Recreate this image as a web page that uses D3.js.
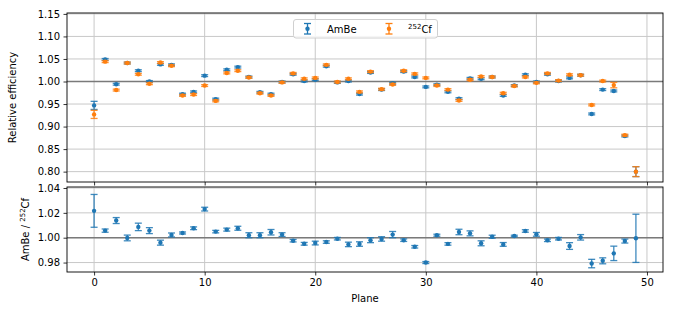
<!DOCTYPE html>
<html><head><meta charset="utf-8">
<script src="https://cdn.jsdelivr.net/npm/d3@7"></script>
<style>
html,body{margin:0;padding:0;background:#fff;}
svg text{font-family:"DejaVu Sans",sans-serif;}
</style></head>
<body>
<script>
const planes = [0,1,2,3,4,5,6,7,8,9,10,11,12,13,14,15,16,17,18,19,20,21,22,23,24,25,26,27,28,29,30,31,32,33,34,35,36,37,38,39,40,41,42,43,44,45,46,47,48,49];
const ambe = [0.947,1.049,0.994,1.041,1.024,1.000,1.038,1.037,0.972,0.977,1.013,0.961,1.026,1.032,1.010,0.976,0.972,0.999,1.016,1.001,1.004,1.034,0.998,1.001,0.972,1.020,0.982,0.996,1.022,1.010,0.988,0.993,0.977,0.962,1.007,1.006,1.010,0.969,0.991,1.015,0.999,1.016,1.001,1.008,1.014,0.928,0.982,0.979,0.879,0.800];
const ambeErr = [0.009,0.002,0.002,0.002,0.002,0.002,0.002,0.002,0.002,0.002,0.002,0.002,0.002,0.002,0.002,0.002,0.002,0.002,0.002,0.002,0.002,0.002,0.002,0.002,0.002,0.002,0.002,0.002,0.002,0.002,0.002,0.002,0.002,0.002,0.002,0.002,0.002,0.002,0.002,0.002,0.002,0.002,0.002,0.002,0.002,0.002,0.002,0.002,0.002,0.011];
const cf = [0.927,1.044,0.981,1.041,1.016,0.995,1.042,1.035,0.969,0.971,0.991,0.957,1.019,1.024,1.009,0.974,0.969,0.998,1.018,1.006,1.008,1.037,0.999,1.006,0.977,1.022,0.983,0.9935,1.024,1.017,1.008,0.991,0.982,0.958,1.004,1.011,1.010,0.974,0.990,1.010,0.997,1.018,1.002,1.015,1.014,0.948,1.001,0.992,0.881,0.800];
const cfErr = [0.009,0.002,0.002,0.002,0.002,0.002,0.002,0.002,0.002,0.002,0.002,0.002,0.002,0.002,0.002,0.002,0.002,0.002,0.002,0.002,0.002,0.002,0.002,0.002,0.002,0.002,0.002,0.002,0.002,0.002,0.002,0.002,0.002,0.002,0.002,0.002,0.002,0.002,0.002,0.002,0.002,0.002,0.002,0.002,0.002,0.002,0.002,0.006,0.002,0.011];
const ratio = [1.0216,1.0057,1.0138,0.9998,1.0087,1.0057,0.9960,1.0022,1.0038,1.0076,1.0230,1.0049,1.0065,1.0076,1.0020,1.0020,1.0044,1.0025,0.9976,0.9951,0.9957,0.9965,0.9992,0.9946,0.9949,0.9980,0.9990,1.0025,0.9980,0.9927,0.9800,1.0020,0.9950,1.0046,1.0035,0.9955,1.0008,0.9946,1.0014,1.0054,1.0027,0.9979,0.9992,0.9933,1.0003,0.9792,0.9814,0.9874,0.9973,0.9995];
const ratioErr = [0.0132,0.0013,0.0024,0.0023,0.0030,0.0024,0.0020,0.0016,0.0008,0.0011,0.0015,0.0010,0.0012,0.0016,0.0020,0.0020,0.0022,0.0015,0.0010,0.0011,0.0015,0.0010,0.0010,0.0018,0.0018,0.0020,0.0018,0.0025,0.0010,0.0010,0.0008,0.0008,0.0010,0.0022,0.0020,0.0020,0.0012,0.0015,0.0006,0.0010,0.0015,0.0010,0.0010,0.0027,0.0022,0.0034,0.0024,0.0058,0.0016,0.0194];
const xTicks = [0,10,20,30,40,50];
const topTicks = [0.80,0.85,0.90,0.95,1.00,1.05,1.10,1.15];
const botTicks = [0.98,1.00,1.02,1.04];
const seriesNames = ["AmBe","Cf"];
const colors = ["#1f77b4","#ff7f0e"];

const W = 678, H = 316;
const L = 67, R = 663;
const topY0 = 13, topY1 = 182, botY0 = 187, botY1 = 272;

const svg = d3.select("body").append("svg").attr("width",W).attr("height",H)
  .style("background","#fff");

const x = d3.scaleLinear().domain([-2.45, 51.45]).range([L, R]);
const yTop = d3.scaleLinear().domain([0.777, 1.152]).range([topY1, topY0]);
const yBot = d3.scaleLinear().domain([0.9724, 1.0408]).range([botY1, botY0]);

function panel(y, yticks, yfmt, showXLabels){
  const g = svg.append("g");
  const y0 = y.range()[0], y1 = y.range()[1];
  // grid
  g.selectAll(".gx").data(xTicks).join("line")
    .attr("x1", d=>x(d)).attr("x2", d=>x(d)).attr("y1", y0).attr("y2", y1)
    .attr("stroke","#c8c8c8").attr("stroke-width",1);
  g.selectAll(".gy").data(yticks).join("line")
    .attr("x1", L).attr("x2", R).attr("y1", d=>y(d)).attr("y2", d=>y(d))
    .attr("stroke","#c8c8c8").attr("stroke-width",1);
  // reference line at 1
  g.append("line").attr("x1",L).attr("x2",R).attr("y1",y(1)).attr("y2",y(1))
    .attr("stroke","#7a7a7a").attr("stroke-width",1.4);
  // axes
  const ay = d3.axisLeft(y).tickValues(yticks).tickFormat(yfmt).tickSize(3.5).tickPadding(3.5);
  const gy = svg.append("g").attr("transform",`translate(${L},0)`).call(ay);
  gy.select(".domain").remove();
  gy.selectAll("text").attr("font-size",10).attr("fill","#000").style("font-family","DejaVu Sans");
  gy.selectAll("line").attr("stroke","#000").attr("stroke-width",0.8);
  const ax = d3.axisBottom(x).tickValues(xTicks).tickSize(3.5).tickPadding(3.5)
    .tickFormat(showXLabels ? d3.format("d") : "");
  const gx = svg.append("g").attr("transform",`translate(0,${y0})`).call(ax);
  gx.select(".domain").remove();
  gx.selectAll("text").attr("font-size",10).attr("fill","#000").style("font-family","DejaVu Sans");
  gx.selectAll("line").attr("stroke","#000").attr("stroke-width",0.8);
  return g;
}

function errorbars(g, y, vals, errs, color){
  const cap = 3.5;
  const eg = g.append("g");
  const data = planes.map((p,i)=>({p, v:vals[i], e:errs[i]}));
  eg.selectAll(".v").data(data).join("line")
    .attr("x1",d=>x(d.p)).attr("x2",d=>x(d.p))
    .attr("y1",d=>y(d.v-d.e)).attr("y2",d=>y(d.v+d.e))
    .attr("stroke",color).attr("stroke-width",1.3).attr("opacity",0.85);
  ["lo","hi"].forEach(k=>{
    eg.selectAll(".c"+k).data(data).join("line")
      .attr("x1",d=>x(d.p)-cap).attr("x2",d=>x(d.p)+cap)
      .attr("y1",d=>y(k==="lo"?d.v-d.e:d.v+d.e)).attr("y2",d=>y(k==="lo"?d.v-d.e:d.v+d.e))
      .attr("stroke",color).attr("stroke-width",1.3).attr("opacity",0.85);
  });
  eg.selectAll("circle").data(data).join("circle")
    .attr("cx",d=>x(d.p)).attr("cy",d=>y(d.v)).attr("r",2.2).attr("fill",color);
}

const gTop = panel(yTop, topTicks, d3.format(".2f"), false);
errorbars(gTop, yTop, ambe, ambeErr, colors[0]);
errorbars(gTop, yTop, cf, cfErr, colors[1]);

const gBot = panel(yBot, botTicks, d3.format(".2f"), true);
errorbars(gBot, yBot, ratio, ratioErr, colors[0]);

// frames
[[topY0,topY1],[botY0,botY1]].forEach(([a,b])=>{
  svg.append("rect").attr("x",L).attr("y",a).attr("width",R-L).attr("height",b-a)
    .attr("fill","none").attr("stroke","#000").attr("stroke-width",0.9);
});

// axis labels
svg.append("text").attr("x",(L+R)/2).attr("y",302).attr("text-anchor","middle")
  .attr("font-size",10).text("Plane");
svg.append("text").attr("transform",`translate(16,${(topY0+topY1)/2}) rotate(-90)`)
  .attr("text-anchor","middle").attr("font-size",10).text("Relative efficiency");
const t2 = svg.append("text").attr("transform",`translate(29,${(botY0+botY1)/2}) rotate(-90)`)
  .attr("text-anchor","middle").attr("font-size",10);
t2.append("tspan").text("AmBe / ");
t2.append("tspan").attr("font-size",7).attr("dy",-4).text("252");
t2.append("tspan").attr("dy",4).text("Cf");

// legend
const lg = svg.append("g");
lg.append("rect").attr("x",293.5).attr("y",19.5).attr("width",144).attr("height",18.5).attr("rx",2.5)
  .attr("fill","#fff").attr("fill-opacity",0.8).attr("stroke","#d0d0d0").attr("stroke-width",1);
const legendItems = [
  {mx:307.5, tx:327, color:colors[0], label:"AmBe"},
  {mx:389, tx:408, color:colors[1], label:"Cf", sup:"252"}
];
legendItems.forEach(it=>{
  lg.append("line").attr("x1",it.mx).attr("x2",it.mx).attr("y1",23.5).attr("y2",34)
    .attr("stroke",it.color).attr("stroke-width",1.3);
  [23.5,34].forEach(yy=>lg.append("line").attr("x1",it.mx-3.5).attr("x2",it.mx+3.5)
    .attr("y1",yy).attr("y2",yy).attr("stroke",it.color).attr("stroke-width",1.3));
  lg.append("circle").attr("cx",it.mx).attr("cy",28.75).attr("r",2.2).attr("fill",it.color);
  const t = lg.append("text").attr("x",it.tx).attr("y",32.5).attr("font-size",10);
  if(it.sup){
    t.append("tspan").attr("font-size",7).attr("dy",-4).text(it.sup);
    t.append("tspan").attr("dy",4).text(it.label);
  } else t.text(it.label);
});
</script>
</body></html>
